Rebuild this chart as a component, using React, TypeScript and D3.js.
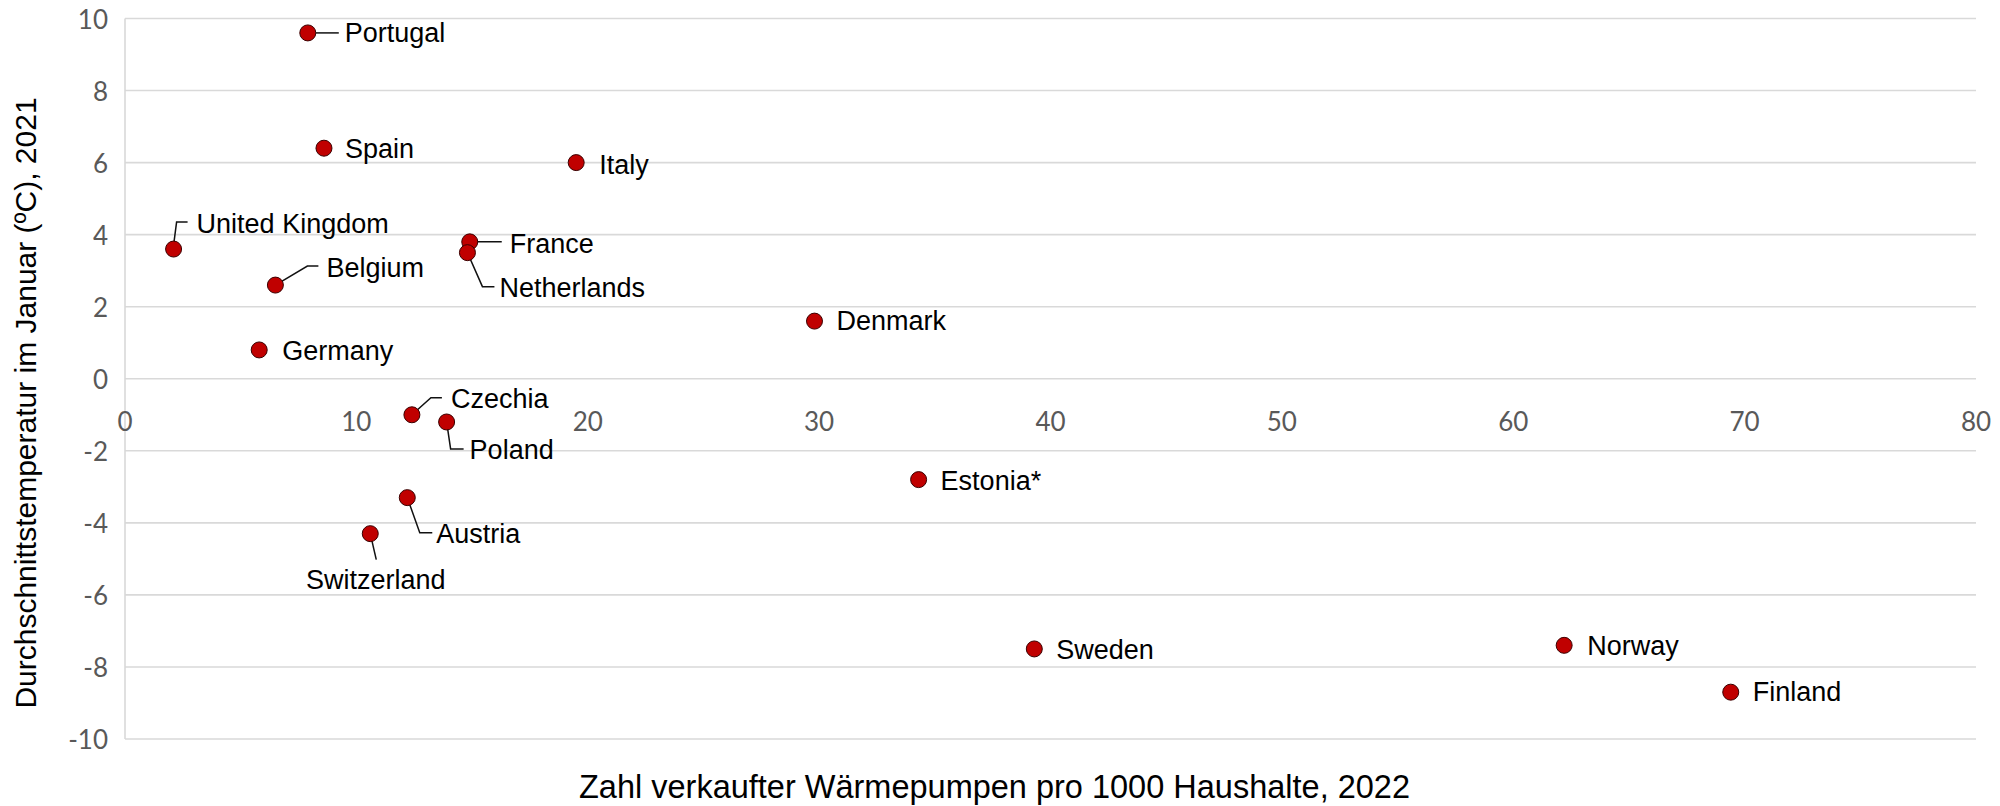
import React, { useEffect } from 'react';
import * as d3 from 'd3';

// ---- Data ----
const countries = [
  'Portugal', 'Spain', 'Italy', 'United Kingdom', 'Belgium', 'Germany',
  'France', 'Netherlands', 'Czechia', 'Poland', 'Austria', 'Switzerland',
  'Denmark', 'Estonia*', 'Sweden', 'Norway', 'Finland',
];
const heatPumpsPer1000 = [7.9, 8.6, 19.5, 2.1, 6.5, 5.8, 14.9, 14.8, 12.4, 13.9, 12.2, 10.6, 29.8, 34.3, 39.3, 62.2, 69.4];
const januaryTemp = [9.6, 6.4, 6.0, 3.6, 2.6, 0.8, 3.8, 3.5, -1.0, -1.2, -3.3, -4.3, 1.6, -2.8, -7.5, -7.4, -8.7];
const xTicks = [0, 10, 20, 30, 40, 50, 60, 70, 80];
const yTicks = [-10, -8, -6, -4, -2, 0, 2, 4, 6, 8, 10];
const xTitle = 'Zahl verkaufter Wärmepumpen pro 1000 Haushalte, 2022';
const yTitle = 'Durchschnittstemperatur im Januar (ºC), 2021';

// ---- Label layout (pixel offsets from the dot; leader polyline points) ----
type LabelLayout = { dx: number; dy: number; anchor?: string; leader?: [number, number][] };
const labelLayout: Record<string, LabelLayout> = {
  'Portugal': { dx: 37, dy: 0, leader: [[8, 0], [31, 0]] },
  'Spain': { dx: 21, dy: 1 },
  'Italy': { dx: 23, dy: 2 },
  'United Kingdom': { dx: 23, dy: -25, leader: [[0, -4], [3, -27], [14, -27]] },
  'Belgium': { dx: 51, dy: -17, leader: [[0, 0], [32, -19], [43, -19]] },
  'Germany': { dx: 23, dy: 1 },
  'France': { dx: 40, dy: 2, leader: [[0, 0], [32, 0]] },
  'Netherlands': { dx: 32, dy: 35, leader: [[0, 0], [15, 34], [27, 34]] },
  'Czechia': { dx: 39, dy: -16, leader: [[0, 0], [19, -17], [30, -17]] },
  'Poland': { dx: 23, dy: 28, leader: [[0, 0], [4, 27], [17, 27]] },
  'Austria': { dx: 29, dy: 36, leader: [[0, 0], [12.5, 35], [25, 35]] },
  'Switzerland': { dx: 5.5, dy: 46, anchor: 'middle', leader: [[0, 0], [6, 26]] },
  'Denmark': { dx: 22, dy: 0 },
  'Estonia*': { dx: 22, dy: 1 },
  'Sweden': { dx: 22, dy: 1 },
  'Norway': { dx: 23, dy: 1 },
  'Finland': { dx: 22, dy: 0 },
};

const W = 2000;
const H = 806;
const plotLeft = 125;
const plotRight = 1976;
const plotTop = 18.5;
const plotBottom = 739;

export default function App() {
  useEffect(() => {
    document.body.style.margin = '0';
    document.body.style.overflow = 'hidden';
  }, []);

  const x = d3.scaleLinear().domain([0, 80]).range([plotLeft, plotRight]);
  const y = d3.scaleLinear().domain([-10, 10]).range([plotBottom, plotTop]);
  const line = d3.line<[number, number]>();

  const gridColor = '#d9d9d9';
  const tickFont = 'Lato, "Open Sans", sans-serif';
  const labelFont = '"Liberation Sans", Arial, sans-serif';

  return (
    <svg width={W} height={H} style={{ display: 'block', background: '#fff' }}>
      <rect x={0} y={0} width={W} height={H} fill="#fff" />
      {/* gridlines */}
      {yTicks.map((t) => (
        <line key={'g' + t} x1={plotLeft} x2={plotRight} y1={y(t)} y2={y(t)} stroke={gridColor} strokeWidth={1.6} />
      ))}
      <line x1={plotLeft} x2={plotLeft} y1={plotTop} y2={plotBottom} stroke={gridColor} strokeWidth={1.6} />

      {/* y tick labels */}
      {yTicks.map((t) => (
        <text key={'yt' + t} x={108} y={y(t)} textAnchor="end" dominantBaseline="central"
          fontFamily={tickFont} fontSize={26} fill="#595959">{t}</text>
      ))}
      {/* x tick labels */}
      {xTicks.map((t) => (
        <text key={'xt' + t} x={x(t)} y={421} textAnchor="middle" dominantBaseline="central"
          fontFamily={tickFont} fontSize={26} fill="#595959">{t}</text>
      ))}

      {/* leaders */}
      {countries.map((c, i) => {
        const L = labelLayout[c];
        if (!L || !L.leader) return null;
        const cx = x(heatPumpsPer1000[i]);
        const cy = y(januaryTemp[i]);
        const pts = L.leader.map(([dx, dy]) => [cx + dx, cy + dy] as [number, number]);
        return <path key={'l' + c} d={line(pts) || ''} fill="none" stroke="#111" strokeWidth={1.5} />;
      })}

      {/* points */}
      {countries.map((c, i) => (
        <circle key={'p' + c} cx={x(heatPumpsPer1000[i])} cy={y(januaryTemp[i])} r={8}
          fill="#c00000" stroke="#3a0000" strokeWidth={1} />
      ))}

      {/* labels */}
      {countries.map((c, i) => {
        const L = labelLayout[c];
        const cx = x(heatPumpsPer1000[i]);
        const cy = y(januaryTemp[i]);
        return (
          <text key={'t' + c} x={cx + L.dx} y={cy + L.dy} textAnchor={L.anchor || 'start'}
            dominantBaseline="central" fontFamily={labelFont} fontSize={27} fill="#000">{c}</text>
        );
      })}

      {/* axis titles */}
      <text x={994.5} y={787} textAnchor="middle" dominantBaseline="central"
        fontFamily={labelFont} fontSize={32.5} fill="#000">{xTitle}</text>
      <text transform={`translate(25,${(96 + 710) / 2}) rotate(-90)`} textAnchor="middle" dominantBaseline="central"
        fontFamily={labelFont} fontSize={30} fill="#000">{yTitle}</text>
    </svg>
  );
}
